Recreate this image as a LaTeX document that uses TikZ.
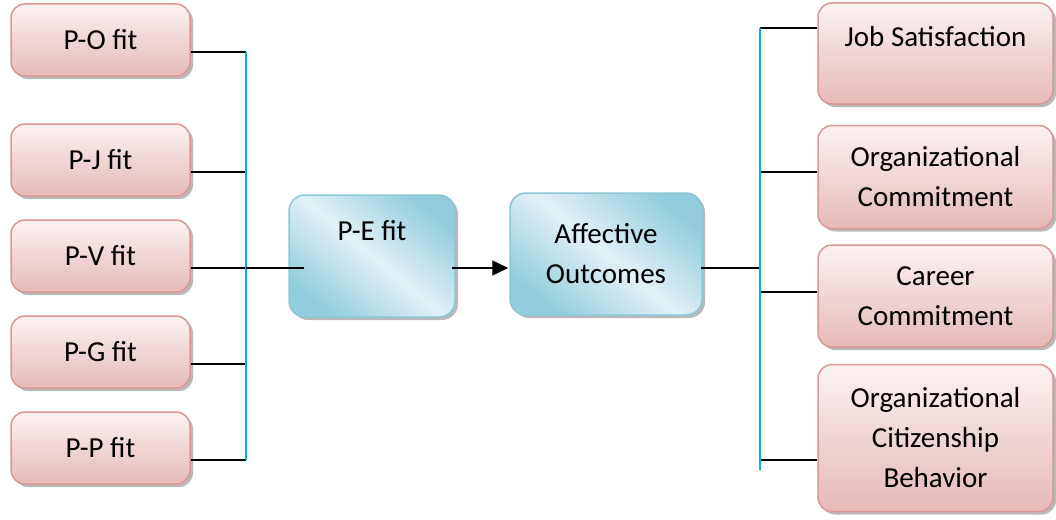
\documentclass[tikz,border=0pt]{standalone}
\usepackage{fontspec}
\setmainfont{Carlito}
\usetikzlibrary{shadows,arrows.meta,calc}
\definecolor{pinkedge}{HTML}{D99694}
\definecolor{pinkbot}{HTML}{E6B9B8}
\definecolor{pinktop}{HTML}{FCF2F2}
\definecolor{blueedge}{HTML}{8CC7D6}
\definecolor{bluedark}{HTML}{93CDDD}
\definecolor{bluelight}{HTML}{E2F1F6}
\definecolor{busblue}{HTML}{00B0F0}
\begin{document}
\begin{tikzpicture}[x=1pt,y=-1pt,
  txt/.style={align=center, font=\fontsize{29}{40}\selectfont, inner sep=0pt},
  pbox/.style={txt, draw=pinkedge, line width=1.5pt, rounded corners=14pt,
    top color=pinktop, bottom color=pinkbot,
    drop shadow={shadow xshift=3pt, shadow yshift=-3pt, fill=black!50, opacity=0.55}},
  bbox/.style={txt, draw=blueedge, line width=1.5pt, rounded corners=16pt,
    left color=bluedark, right color=bluedark, middle color=bluelight, shading angle=-40,
    drop shadow={shadow xshift=3pt, shadow yshift=-3pt, fill=black!50, opacity=0.55}},
  lbox/.style={pbox, minimum width=179, minimum height=72},
  rbox/.style={pbox, minimum width=235},
  conn/.style={line width=1.4pt, black},
  bus/.style={line width=1.6pt, busblue}]
\useasboundingbox (0,0) rectangle (1056,519);

% left boxes
\node[lbox] (po) at (100.5,40) {P-O fit};
\node[lbox] (pj) at (100.5,160) {P-J fit};
\node[lbox] (pv) at (100.5,256) {P-V fit};
\node[lbox] (pg) at (100.5,352) {P-G fit};
\node[lbox] (pp) at (100.5,448) {P-P fit};

% middle boxes
\node[bbox, minimum width=166, minimum height=122] (pe) at (372,256) {};
\node[txt] (pet) at (372,231) {P-E fit};
\node[bbox, minimum width=192, minimum height=122] (ao) at (606,254) {Affective\\Outcomes};

% right boxes
\node[rbox, minimum height=101] (js) at (935.5,53.5) {};
\node[txt] (jst) at (935.5,37) {Job Satisfaction};
\node[rbox, minimum height=103] (oc) at (935.5,177) {Organizational\\Commitment};
\node[rbox, minimum height=102] (cc) at (935.5,296) {Career\\Commitment};
\node[rbox, minimum height=147] (ocb) at (935.5,438) {Organizational\\Citizenship\\Behavior};

% left bus
\coordinate (lt) at (246,52);
\coordinate (lb) at (246,460);
\foreach \n in {pj,pv,pg,pp}{
  \coordinate (\n T) at ($(\n.east)+(0,12)$);
  \draw[conn] (\n T) -- (\n T -| lt);
}
\coordinate (poT) at ($(po.east)+(0,12)$);
\draw[conn] (poT) -- (poT -| lt);
\draw[bus] (lt) -- (lb);
\draw[conn] (pvT -| lt) -- ($(pe.west)+(16,12)$);

% arrow
\draw[conn, -{Triangle[length=16pt,width=15pt]}] ($(pe.east)+(-4,12)$) -- ($(ao.west)+(-1,14)$);

% right bus
\coordinate (rt) at (760,28);
\coordinate (rb) at (760,470);
\coordinate (aoT) at ($(ao.east)+(-2,14)$);
\draw[conn] (aoT) -- (aoT -| rt);
\coordinate (jsT) at ($(js.west)+(0,-25.5)$);
\coordinate (ocT) at ($(oc.west)+(0,-5)$);
\coordinate (ccT) at ($(cc.west)+(0,-4)$);
\coordinate (ocbT) at ($(ocb.west)+(0,22)$);
\foreach \n in {js,oc,cc,ocb}{
  \draw[conn] (\n T -| rt) -- (\n T);
}
\draw[bus] (rt) -- (rb);
\end{tikzpicture}
\end{document}
